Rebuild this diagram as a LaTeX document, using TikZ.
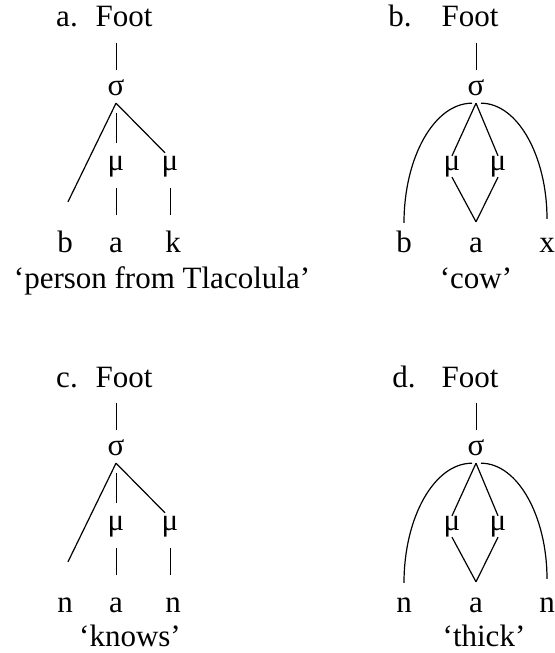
\documentclass[tikz,border=0pt]{standalone}
\usepackage{fontspec}
\setmainfont{Liberation Serif}

\begin{document}
\begin{tikzpicture}[
    x=1pt, y=-1pt,
    txt/.style={inner sep=0pt, anchor=base, font=\fontsize{31}{37}\selectfont},
    syl/.style={txt, text height=14pt, text depth=8pt},
    mora/.style={txt, text height=14pt, text depth=7pt},
    seg/.style={txt, text height=21pt, text depth=0pt},
    bar/.style={line width=0.8pt},
    assoc/.style={line width=1.2pt},
]
\useasboundingbox (0,0) rectangle (554,653);

% a. Foot over b a k
\node[txt] (a-lbl) at (67,27) {a.};
\node[txt] (a-ft) at (124,27) {Foot};
\node[syl] (a-sg) at (116,95) {σ};
\node[mora] (a-m1) at (116,170) {μ};
\node[mora] (a-m2) at (170,170) {μ};
\node[seg] (a-s1) at (65,252) {b};
\node[seg] (a-s2) at (116,252) {a};
\node[seg] (a-s3) at (173,252) {k};
\node[txt] (a-gl) at (162,288) {‘person from Tlacolula’};

\draw[bar, shorten <=15pt, shorten >=11pt] (a-sg.north |- a-ft.south) -- (a-sg.north);
\draw[bar, shorten <=10pt, shorten >=13pt] (a-sg.south) -- (a-m1.north);
\draw[assoc] (a-sg.south) -- ([xshift=3pt, yshift=29pt]a-s1.north);
\draw[assoc] (a-sg.south) -- ([xshift=-5pt, yshift=3pt]a-m2.north);
\draw[bar, shorten <=11pt, shorten >=16pt] (a-m1.south) -- (a-s2.north);
\draw[bar, shorten <=11pt, shorten >=16pt] (a-m2.south) -- (a-m2.south |- a-s3.north);

% b. Foot over b a x
\node[txt] (b-lbl) at (400,27) {b.};
\node[txt] (b-ft) at (470,27) {Foot};
\node[syl] (b-sg) at (476,95) {σ};
\node[mora] (b-m1) at (452,170) {μ};
\node[mora] (b-m2) at (498,170) {μ};
\node[seg] (b-s1) at (404,252) {b};
\node[seg] (b-s2) at (476,252) {a};
\node[seg] (b-s3) at (547,252) {x};
\node[txt] (b-gl) at (476,288) {‘cow’};

\draw[bar, shorten <=15pt, shorten >=11pt] (b-sg.north |- b-ft.south) -- (b-sg.north);
\draw[assoc] (b-sg.south) -- (b-m1.north);
\draw[assoc] (b-sg.south) -- (b-m2.north);
\draw[assoc] (b-m1.south) -- ([yshift=9pt]b-s2.north);
\draw[assoc] (b-m2.south) -- ([yshift=9pt]b-s2.north);
\draw[assoc] ([xshift=-4pt]b-sg.south) .. controls +(-38,0) and +(0,-65) .. ([yshift=8pt]b-s1.north);
\draw[assoc] ([xshift=5pt]b-sg.south) .. controls +(37,0) and +(0,-62) .. ([yshift=12pt]b-s3.north);

% c. Foot over n a n
\node[txt] (c-lbl) at (67,387) {c.};
\node[txt] (c-ft) at (124,387) {Foot};
\node[syl] (c-sg) at (116,455) {σ};
\node[mora] (c-m1) at (116,530) {μ};
\node[mora] (c-m2) at (170,530) {μ};
\node[seg] (c-s1) at (65,612) {n};
\node[seg] (c-s2) at (116,612) {a};
\node[seg] (c-s3) at (173,612) {n};
\node[txt] (c-gl) at (130,646) {‘knows’};

\draw[bar, shorten <=15pt, shorten >=11pt] (c-sg.north |- c-ft.south) -- (c-sg.north);
\draw[bar, shorten <=10pt, shorten >=13pt] (c-sg.south) -- (c-m1.north);
\draw[assoc] (c-sg.south) -- ([xshift=3pt, yshift=29pt]c-s1.north);
\draw[assoc] (c-sg.south) -- ([xshift=-5pt, yshift=3pt]c-m2.north);
\draw[bar, shorten <=11pt, shorten >=16pt] (c-m1.south) -- (c-s2.north);
\draw[bar, shorten <=11pt, shorten >=16pt] (c-m2.south) -- (c-m2.south |- c-s3.north);

% d. Foot over n a n
\node[txt] (d-lbl) at (404,387) {d.};
\node[txt] (d-ft) at (470,387) {Foot};
\node[syl] (d-sg) at (476,455) {σ};
\node[mora] (d-m1) at (452,530) {μ};
\node[mora] (d-m2) at (498,530) {μ};
\node[seg] (d-s1) at (404,612) {n};
\node[seg] (d-s2) at (476,612) {a};
\node[seg] (d-s3) at (547,612) {n};
\node[txt] (d-gl) at (484,646) {‘thick’};

\draw[bar, shorten <=15pt, shorten >=11pt] (d-sg.north |- d-ft.south) -- (d-sg.north);
\draw[assoc] (d-sg.south) -- (d-m1.north);
\draw[assoc] (d-sg.south) -- (d-m2.north);
\draw[assoc] (d-m1.south) -- ([yshift=9pt]d-s2.north);
\draw[assoc] (d-m2.south) -- ([yshift=9pt]d-s2.north);
\draw[assoc] ([xshift=-4pt]d-sg.south) .. controls +(-38,0) and +(0,-65) .. ([yshift=8pt]d-s1.north);
\draw[assoc] ([xshift=5pt]d-sg.south) .. controls +(37,0) and +(0,-62) .. ([yshift=12pt]d-s3.north);

\end{tikzpicture}
\end{document}
